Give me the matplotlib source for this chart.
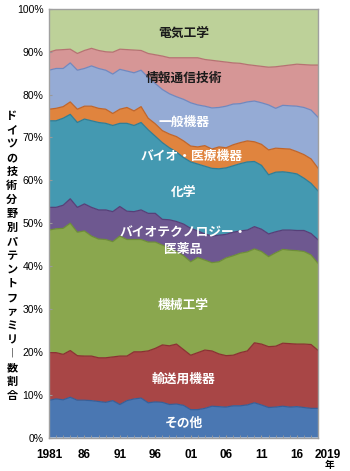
import numpy as np
import matplotlib
matplotlib.use("Agg")
import matplotlib.pyplot as plt

plt.rcParams['font.family'] = ['Noto Sans CJK JP', 'DejaVu Sans']

years = list(range(1981, 2020))

# shares (%) per technology field, bottom to top of the stack
other = [8.7, 9.0, 8.8, 9.4, 8.7, 8.7, 8.6, 8.4, 8.2, 8.6, 7.7, 8.6, 9.0, 9.2, 8.1, 8.3, 8.2, 7.7, 7.8, 7.5,
         6.5, 6.5, 6.8, 7.3, 7.2, 7.1, 7.4, 7.4, 7.6, 8.1, 7.6, 7.0, 7.1, 7.3, 7.1, 7.2, 7.0, 6.8, 6.8]
transport = [11.1, 10.8, 10.6, 10.9, 10.4, 10.3, 10.4, 10.2, 10.4, 10.2, 11.3, 10.4, 11.0, 10.8, 12.1, 12.5,
             13.4, 13.7, 14.0, 13.0, 12.7, 13.3, 13.6, 12.9, 12.3, 12.0, 11.8, 12.4, 12.6, 14.0, 14.2, 14.2,
             14.2, 14.7, 14.8, 14.6, 14.8, 14.9, 13.5]
mechanical = [28.6, 28.9, 29.4, 29.7, 28.8, 29.2, 28.0, 27.7, 27.6, 26.9, 28.0, 27.2, 26.2, 26.2, 25.4, 24.8,
              23.3, 22.8, 21.6, 21.9, 21.8, 22.2, 21.0, 20.6, 21.5, 22.8, 23.2, 23.2, 23.1, 21.9, 21.6, 21.0,
              21.8, 21.9, 21.8, 21.8, 21.6, 20.9, 20.3]
biotech = [5.3, 5.0, 5.4, 5.7, 5.8, 6.3, 6.7, 6.8, 6.9, 7.0, 6.9, 6.6, 6.5, 6.9, 6.7, 6.7, 6.0, 6.6, 7.0, 7.4,
           7.8, 6.2, 6.1, 6.2, 6.2, 5.5, 5.5, 5.2, 5.1, 5.2, 5.2, 5.3, 4.9, 4.5, 4.7, 4.7, 4.9, 5.0, 5.5]
chemistry = [20.2, 20.2, 20.3, 19.7, 19.8, 19.8, 20.2, 20.4, 20.2, 20.1, 19.4, 20.5, 20.1, 20.4, 19.5, 18.0,
             17.9, 16.8, 16.2, 15.5, 15.5, 15.6, 15.8, 15.8, 15.5, 15.5, 15.5, 15.7, 15.9, 15.2, 14.9, 13.8,
             13.9, 13.6, 13.4, 13.2, 12.2, 11.7, 11.4]
medical = [2.7, 2.9, 2.7, 2.9, 3.1, 3.0, 3.4, 3.3, 3.3, 2.8, 3.3, 3.7, 3.4, 3.7, 2.7, 2.9, 2.8, 3.2, 3.6, 3.9,
           3.7, 4.0, 4.8, 4.5, 5.1, 4.7, 4.9, 4.9, 4.9, 4.6, 4.9, 5.8, 5.6, 5.4, 5.5, 5.2, 5.5, 5.7, 5.3]
general = [9.1, 9.3, 8.9, 9.1, 9.1, 8.8, 9.4, 9.3, 9.1, 9.2, 9.3, 8.5, 8.9, 8.5, 9.5, 9.4, 9.6, 9.4, 9.3, 9.7,
           10.1, 9.8, 9.2, 9.6, 9.2, 9.7, 9.5, 9.1, 9.1, 9.5, 9.7, 10.5, 9.3, 10.1, 10.1, 10.6, 11.0, 11.4, 11.9]
ict = [4.2, 4.3, 4.4, 3.2, 3.9, 4.2, 4.1, 4.2, 4.3, 5.1, 4.7, 5.0, 5.3, 4.6, 5.6, 6.7, 7.8, 8.4, 9.1, 9.7,
       10.5, 11.0, 10.9, 11.1, 10.8, 10.3, 9.6, 9.4, 8.7, 8.3, 8.5, 8.8, 9.7, 9.2, 9.5, 9.8, 10.0, 10.5, 12.2]
electrical = [10.1, 9.6, 9.5, 9.4, 10.4, 9.7, 9.2, 9.7, 10.0, 10.1, 9.4, 9.5, 9.6, 9.7, 10.4, 10.7, 11.0, 11.4,
              11.4, 11.4, 11.4, 11.4, 11.8, 12.0, 12.2, 12.4, 12.6, 12.7, 13.0, 13.2, 13.4, 13.6, 13.5, 13.3,
              13.1, 12.9, 13.0, 13.1, 13.1]

series = [other, transport, mechanical, biotech, chemistry, medical, general, ict, electrical]
fills = ['#4a77b2', '#a84646', '#8aa74e', '#6e5890', '#4499b1', '#e0843e', '#95abd5', '#d69696', '#bdd199']
edges = ['#375f98', '#8a3232', '#6e8e38', '#563f78', '#2f7d96', '#c0652a', '#7088bf', '#b67272', '#9fb67a']

labels = [
    ('その他', 2000, 3.4, 'white'),
    ('輸送用機器', 2000, 13.7, 'white'),
    ('機械工学', 2000, 30.9, 'white'),
    ('バイオテクノロジー・\n医薬品', 2000, 45.9, 'white'),
    ('化学', 2000, 57.3, 'white'),
    ('バイオ・医療機器', 2001.1, 65.5, 'white'),
    ('一般機器', 2000, 73.4, 'white'),
    ('情報通信技術', 2000, 83.9, '#1a1a1a'),
    ('電気工学', 2000, 94.4, '#1a1a1a'),
]

major_ticks = [1981, 1986, 1991, 1996, 2001, 2006, 2011, 2016]
major_labels = ['1981', '86', '91', '96', '01', '06', '11', '16']
y_ticks = list(range(0, 101, 10))

narrow = ['Liberation Sans Narrow', 'Liberation Sans', 'DejaVu Sans']

fig = plt.figure(figsize=(3.5, 4.71), dpi=100)
ax = fig.add_axes([0.14, 0.0711, 0.769, 0.91])

ax.stackplot(years, *series, colors=fills, linewidth=0)
tops = np.cumsum(np.array(series), axis=0)
for top, ec in zip(tops[:-1], edges[:-1]):
    ax.plot(years, top, color=ec, lw=0.9)

for text, x, y, c in labels:
    ax.text(x, y, text, color=c, ha='center', va='center', fontsize=9.2,
            fontweight='bold', linespacing=1.35)

ax.set_xlim(1981, 2019)
ax.set_ylim(0, 100)
ax.set_yticks(y_ticks)
ax.set_yticklabels([f'{v}%' for v in y_ticks])
ax.set_xticks(major_ticks)
ax.set_xticklabels(major_labels)
ax.set_xticks(years, minor=True)
ax.tick_params(axis='x', which='both', direction='in', length=2, color='#999999', pad=8.5)
ax.tick_params(axis='y', direction='in', length=2, color='#999999', pad=4)
for lab in ax.get_xticklabels():
    lab.set_fontsize(8.5)
    lab.set_fontweight('bold')
    lab.set_family(narrow)
for lab in ax.get_yticklabels():
    lab.set_fontsize(7.5)
    lab.set_family(narrow)
for sp in ax.spines.values():
    sp.set_color('#a0a0a0')
    sp.set_linewidth(1.0)

ax.annotate('2019', xy=(2019, 0), xytext=(7, -8), textcoords='offset points',
            ha='center', va='top', fontsize=8.5, fontweight='bold', family=narrow)
ax.annotate('年', xy=(2019, 0), xytext=(8, -23.2), textcoords='offset points',
            ha='center', va='bottom', fontsize=7, fontweight='bold')

ylabel = 'ドイツの技術分野別パテントファミリー数割合'
ylabel_v = '\n'.join('︱' if ch == 'ー' else ch for ch in ylabel)
fig.text(0.034, 0.4575, ylabel_v, ha='center', va='center', fontsize=8,
         fontweight='bold', linespacing=1.1)

fig.savefig('out.png', dpi=100)
